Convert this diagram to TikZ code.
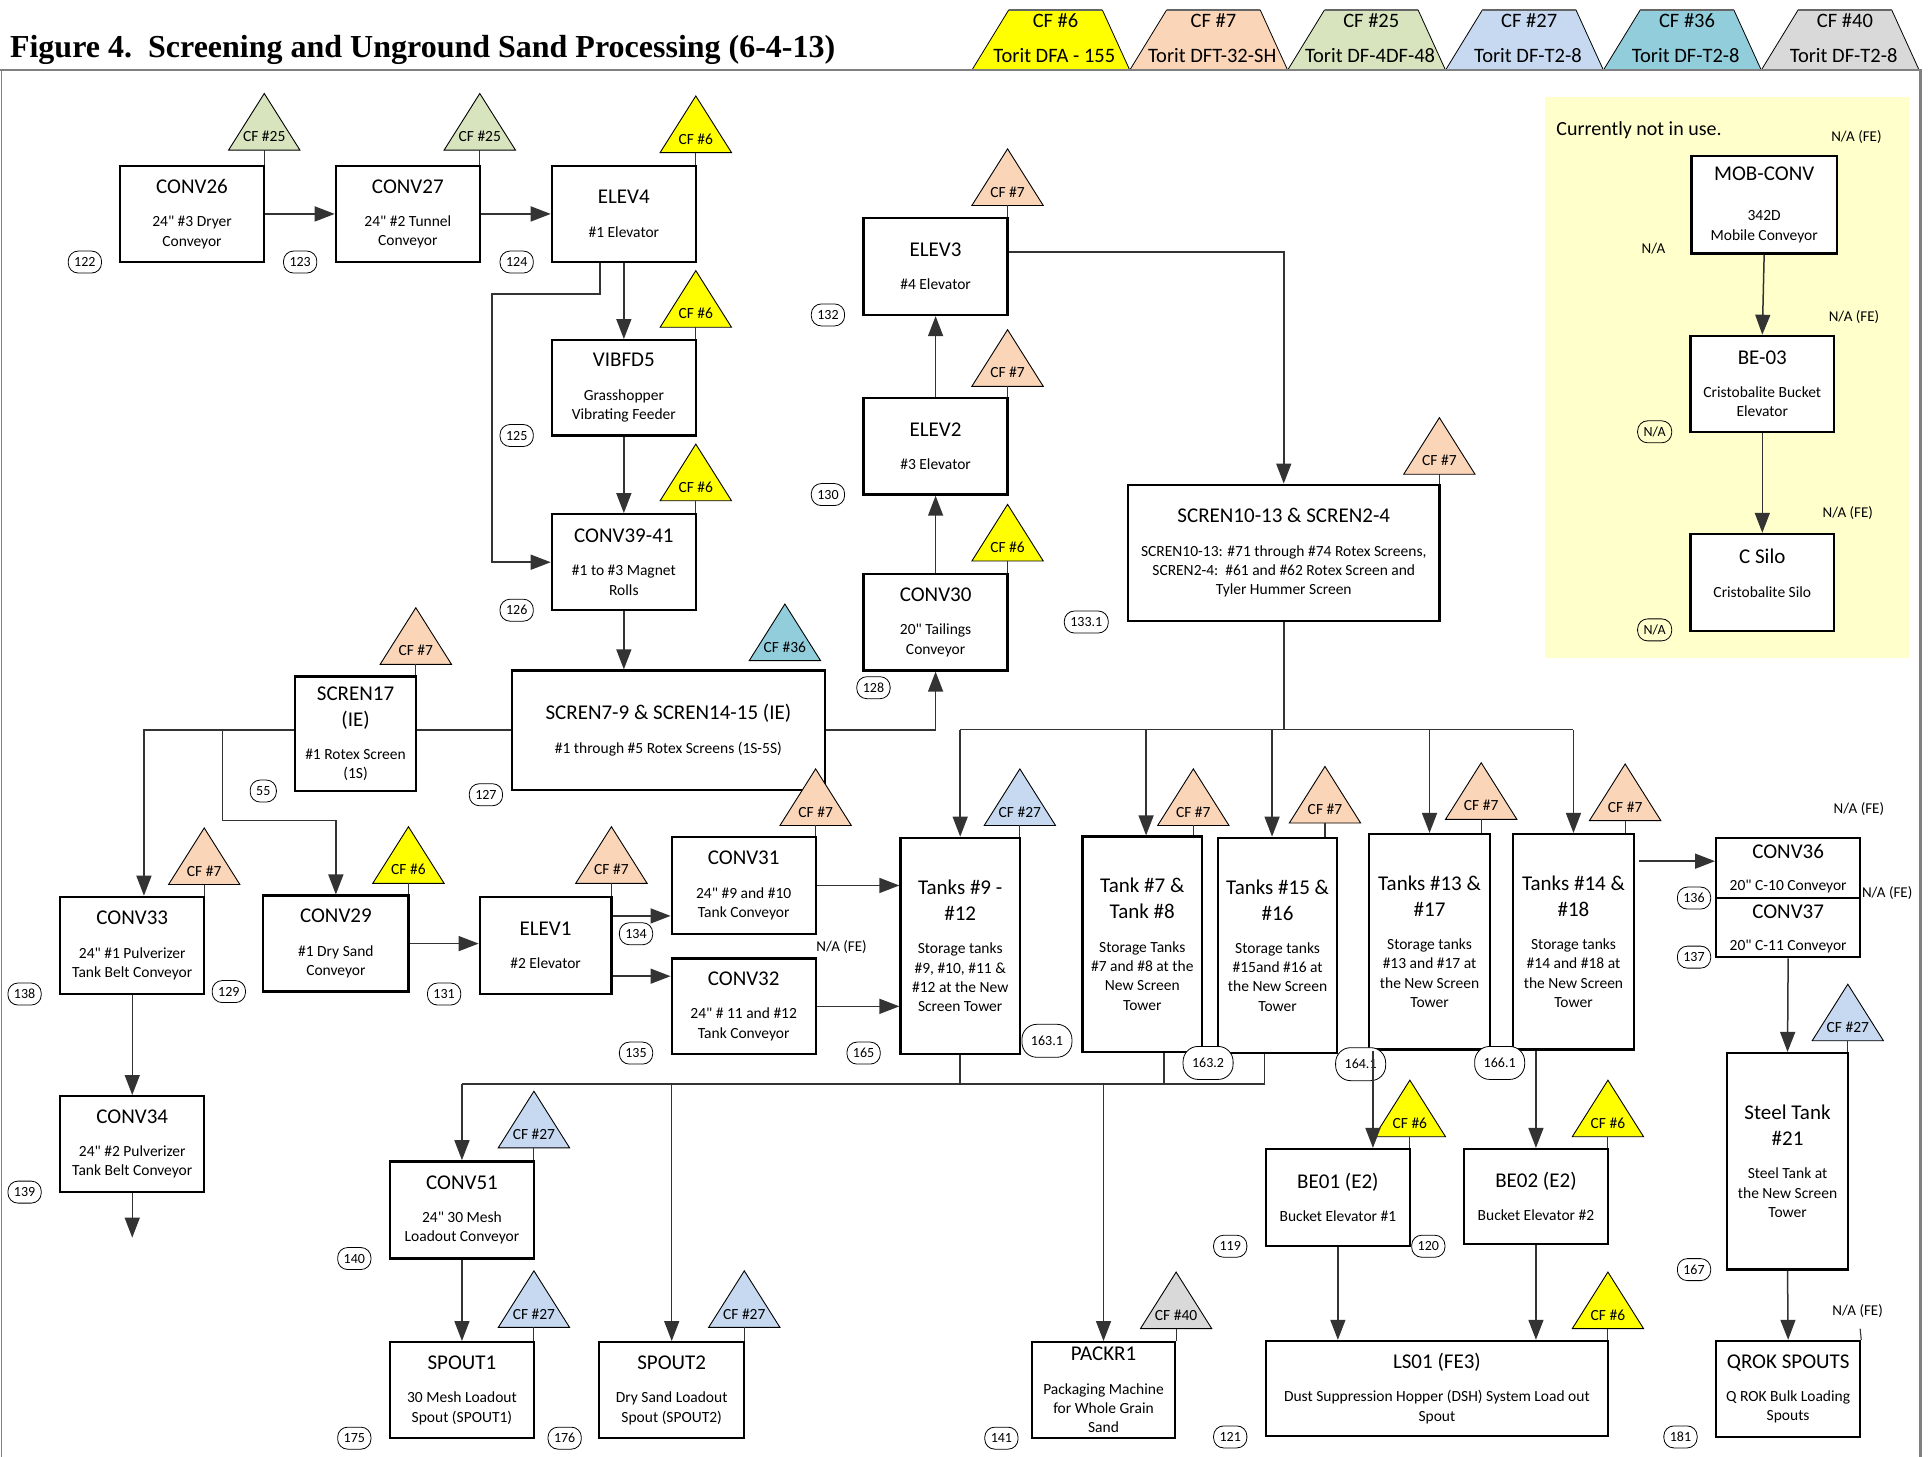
\documentclass[tikz,border=0pt]{standalone}
\usepackage{fontspec}
\setmainfont{Carlito}[Ligatures=TeXOff]
\newfontfamily\serifbold{Liberation Serif}
\usetikzlibrary{arrows.meta,fit,calc}

\definecolor{cfyellow}{HTML}{FFFF00}
\definecolor{cfpeach}{HTML}{FAD5B8}
\definecolor{cfgreen}{HTML}{D7E4BD}
\definecolor{cfblue}{HTML}{C6D9F1}
\definecolor{cfteal}{HTML}{92CDDC}
\definecolor{cfgray}{HTML}{D9D9D9}
\definecolor{panel}{HTML}{FFFFCC}
\definecolor{framegray}{HTML}{808080}

\newcommand\tf{\fontsize{21}{26}\selectfont}
\newcommand\df{\fontsize{15.5}{19.3}\selectfont}

\tikzset{
  x=1.2302pt, y=-1.2302pt,
  box/.style={draw=black, fill=white, line width=2.3pt, inner sep=0pt},
  txt/.style={inner sep=0pt},
  ln/.style={draw=black!80, line width=1.5pt},
  arr/.style={ln, -{Triangle[length=20pt,width=15pt]}},
  tri/.style={draw=black, line width=0.9pt},
  tie/.style={draw=black!80, line width=1.1pt},
  trilbl/.style={font=\fontsize{15.5}{17}\selectfont, inner sep=0pt},
  hdr/.style={font=\fontsize{20.5}{24}\selectfont, inner sep=0pt},
  bub/.style={draw=black, fill=white, line width=0.8pt, rounded corners=10pt,
    inner xsep=6pt, inner ysep=0pt, minimum height=22pt, font=\fontsize{14}{16}\selectfont},
  bigbub/.style={bub, minimum height=33pt, minimum width=50pt, rounded corners=15pt},
  na/.style={font=\fontsize{15}{17}\selectfont, inner sep=0pt},
}

% equipment box: [gap] name, x1, y1, x2, y2, title, description
\newcommand\unit[8][14pt]{%
  \node[box, fit={(#3,#4) (#5,#6)}] (#2) {};
  \node[txt] (#2-x) at (#2.center)
    {\parbox{360pt}{\centering\tf #7\par\vspace{#1}\df #8\par}};
}
% same, text centred at a given height
\newcommand\unitp[8]{%
  \node[box, fit={(#2,#3) (#4,#5)}] (#1) {};
  \node[txt] (#1-x) at (#1.center |- 0,#6)
    {\parbox{360pt}{\centering\tf #7\par\vspace{14pt}\df #8\par}};
}
% control-filter triangle: name, centre x, base y, colour, label
\newcommand\cf[5]{%
  \draw[tri, fill=#4] (#2-29,#3) -- (#2,#3-46) -- (#2+29,#3) -- cycle;
  \node[trilbl] (#1) at (#2,#3-11) {#5};
  \coordinate (#1-b) at (#2,#3);
}

\begin{document}
\begin{tikzpicture}
\useasboundingbox (0,0) rectangle (1568,1184.3);

% not-in-use panel
\fill[panel] (1256,79) rectangle (1552,535);

% control filter legend
\foreach \i/\c/\a/\b in {0/cfyellow/{CF \#6}/{Torit DFA - 155},
    1/cfpeach/{CF \#7}/{Torit DFT-32-SH},
    2/cfgreen/{CF \#25}/{Torit DF-4DF-48},
    3/cfblue/{CF \#27}/{Torit DF-T2-8},
    4/cfteal/{CF \#36}/{Torit DF-T2-8},
    5/cfgray/{CF \#40}/{Torit DF-T2-8}}{
  \pgfmathsetmacro\bx{790+128.33*\i}
  \fill[\c] (\bx,57) -- (\bx+30,8) -- (\bx+106,8) -- (\bx+128.33,57) -- cycle;
  \draw[line width=0.8pt] (\bx,57) -- (\bx+30,8) (\bx+106,8) -- (\bx+128.33,57);
  \draw[line width=2.6pt, draw=black!60] (\bx+30,8) -- (\bx+106,8);
  \node[hdr] (hc\i) at (\bx+68,17) {\a};
  \node[hdr] (hd\i) at (\bx+67,45) {\b};
}

% frame
\draw[framegray, line width=2.6pt] (0,57) -- (1561,57) -- (1561,1184.3);
\draw[framegray, line width=1.2pt] (1,57) -- (1,1184.3);

% title
\node[anchor=base west, inner sep=0pt, font=\serifbold\bfseries\fontsize{32}{36}\selectfont]
  (title) at (8,46.5) {Figure 4.\ \ Screening and Unground Sand Processing (6-4-13)};

% equipment
\unit{conv26}{97.4}{134.8}{214.8}{213}{CONV26}{24" \#3 Dryer\\Conveyor}
\unit{conv27}{273}{134.8}{390}{213}{CONV27}{24" \#2 Tunnel\\Conveyor}
\unit{elev4}{448.6}{134.8}{565.6}{213}{ELEV4}{\#1 Elevator}
\unit{vibfd5}{448.6}{276.5}{565.6}{354}{VIBFD5}{Grasshopper\\Vibrating Feeder}
\unit{conv39}{448.6}{418}{565.6}{496}{CONV39-41}{\#1 to \#3 Magnet\\Rolls}
\unit{scren7}{416}{545}{670.6}{642}{SCREN7-9 \& SCREN14-15 (IE)}{\#1 through \#5 Rotex Screens (1S-5S)}
\unit{scren17}{240}{550}{338}{643}{SCREN17\\(IE)}{\#1 Rotex Screen\\(1S)}
\unit{conv33}{49}{729}{166}{808}{CONV33}{24" \#1 Pulverizer\\Tank Belt Conveyor}
\unit{conv34}{49}{891}{166}{969}{CONV34}{24" \#2 Pulverizer\\Tank Belt Conveyor}
\unit{conv29}{214}{728}{332}{806}{CONV29}{\#1 Dry Sand\\Conveyor}
\unit{elev1}{390}{729}{497}{808}{ELEV1}{\#2 Elevator}
\unit{conv31}{546}{680.5}{663}{759}{CONV31}{24" \#9 and \#10\\Tank Conveyor}
\unit{conv32}{546}{779}{663}{857}{CONV32}{24" \# 11 and \#12\\Tank Conveyor}
\unit{conv30}{702}{466.6}{819}{545}{CONV30}{20" Tailings\\Conveyor}
\unit{elev2}{702}{323.6}{819}{402}{ELEV2}{\#3 Elevator}
\unit{elev3}{702}{177}{819}{256}{ELEV3}{\#4 Elevator}
\unit{scren10}{917}{394}{1170}{505}{SCREN10-13 \& SCREN2-4}{SCREN10-13: \#71 through \#74 Rotex Screens,\\SCREN2-4:\ \ \#61 and \#62 Rotex Screen and\\Tyler Hummer Screen}
\unit{t912}{732}{681}{829}{857}{Tanks \#9 -\\\#12}{Storage tanks\\\#9, \#10, \#11 \&\\\#12 at the New\\Screen Tower}
\unit{t78}{880}{680}{977}{855}{Tank \#7 \&\\Tank \#8}{Storage Tanks\\\#7 and \#8 at the\\New Screen\\Tower}
\unit{t1516}{990}{681}{1087}{856}{Tanks \#15 \&\\\#16}{Storage tanks\\\#15and \#16 at\\the New Screen\\Tower}
\unit{t1317}{1113}{678}{1211}{853}{Tanks \#13 \&\\\#17}{Storage tanks\\\#13 and \#17 at\\the New Screen\\Tower}
\unit{t1418}{1230}{678}{1328}{853}{Tanks \#14 \&\\\#18}{Storage tanks\\\#14 and \#18 at\\the New Screen\\Tower}
\unit{steel}{1404}{856}{1502}{1032}{Steel Tank\\\#21}{Steel Tank at\\the New Screen\\Tower}
\unit{qrok}{1395}{1090}{1512}{1168}{QROK SPOUTS}{Q ROK Bulk Loading\\Spouts}
\unit{be01}{1029}{934}{1146}{1013}{BE01 (E2)}{Bucket Elevator \#1}
\unit{be02}{1190}{934}{1307}{1011}{BE02 (E2)}{Bucket Elevator \#2}
\unit{ls01}{1029}{1090}{1307}{1167}{LS01 (FE3)}{Dust Suppression Hopper (DSH) System Load out\\Spout}
\unit{packr1}{839}{1091}{955}{1169}{PACKR1}{Packaging Machine\\for Whole Grain\\Sand}
\unit{conv51}{317}{944}{434}{1023}{CONV51}{24" 30 Mesh\\Loadout Conveyor}
\unit{spout1}{317}{1091}{434}{1169}{SPOUT1}{30 Mesh Loadout\\Spout (SPOUT1)}
\unit{spout2}{487}{1091}{605}{1169}{SPOUT2}{Dry Sand Loadout\\Spout (SPOUT2)}
\unit[21pt]{mob}{1375}{127}{1493}{206}{MOB-CONV}{342D\\Mobile Conveyor}
\unit{be03}{1374}{273}{1491}{351}{BE-03}{Cristobalite Bucket\\Elevator}
\unitp{csilo}{1374}{434}{1491}{513}{466}{C Silo}{Cristobalite Silo}

% split box for the two C-conveyors
\node[box, fit={(1395,681) (1512,778)}] (c3637) {};
\draw[line width=1.5pt] (c3637.west |- 0,730) -- (c3637.east |- 0,730);
\node[txt, font=\tf] (c36t) at (1453.5,692) {CONV36};
\node[txt, font=\df] (c36d) at (1453.5,721) {20" C-10 Conveyor};
\node[txt, font=\tf] (c37t) at (1453.5,741) {CONV37};
\node[txt, font=\df] (c37d) at (1453.5,769) {20" C-11 Conveyor};

% control filter triangles
\cf{f1}{214.8}{122}{cfgreen}{CF \#25}
\cf{f2}{390}{122}{cfgreen}{CF \#25}
\cf{f3}{565.6}{124}{cfyellow}{CF \#6}
\cf{f4}{565.6}{266}{cfyellow}{CF \#6}
\cf{f5}{565.6}{407}{cfyellow}{CF \#6}
\cf{f6}{819}{167}{cfpeach}{CF \#7}
\cf{f7}{819}{314}{cfpeach}{CF \#7}
\cf{f8}{819}{456}{cfyellow}{CF \#6}
\cf{f9}{1170}{385.5}{cfpeach}{CF \#7}
\cf{f10}{638}{537}{cfteal}{CF \#36}
\cf{f11}{338}{540}{cfpeach}{CF \#7}
\cf{f12}{166}{719}{cfpeach}{CF \#7}
\cf{f13}{332}{718}{cfyellow}{CF \#6}
\cf{f14}{497}{718}{cfpeach}{CF \#7}
\cf{f15}{663}{671}{cfpeach}{CF \#7}
\cf{f16}{829}{671}{cfblue}{CF \#27}
\cf{f17}{970}{671}{cfpeach}{CF \#7}
\cf{f18}{1077}{669}{cfpeach}{CF \#7}
\cf{f19}{1204}{666}{cfpeach}{CF \#7}
\cf{f20}{1321}{667}{cfpeach}{CF \#7}
\cf{f21}{434}{933}{cfblue}{CF \#27}
\cf{f22}{434}{1079}{cfblue}{CF \#27}
\cf{f23}{605}{1079}{cfblue}{CF \#27}
\cf{f24}{956}{1080}{cfgray}{CF \#40}
\cf{f25}{1146}{924}{cfyellow}{CF \#6}
\cf{f26}{1307}{924}{cfyellow}{CF \#6}
\cf{f27}{1307}{1080}{cfyellow}{CF \#6}
\cf{f28}{1502}{846}{cfblue}{CF \#27}

\foreach \f/\b in {f1/conv26,f2/conv27,f3/elev4,f4/vibfd5,f5/conv39,f6/elev3,f7/elev2,
    f8/conv30,f9/scren10,f11/scren17,f12/conv33,f13/conv29,f14/elev1,f15/conv31,f16/t912,
    f17/t78,f18/t1516,f19/t1317,f20/t1418,f21/conv51,f22/spout1,f23/spout2,f24/packr1,
    f25/be01,f26/be02,f27/ls01,f28/steel}
  \draw[tie] (\f-b) -- (\b.north -| \f-b);
\coordinate (qstub) at (1512,1080);
\draw[tie] (qstub) -- (qrok.north east);

% emission point numbers
\foreach \n/\x/\y/\t in {b122/69/213/122, b123/244/213/123, b124/420/213/124,
    b125/420/354/125, b126/420/496/126, b132/673/256/132, b130/673/402/130,
    b128/710/559/128, b1331/883/505.6/133.1, b127/395/646/127, b55/214/643/55,
    b138/20/808/138, b129/186/806/129, b131/361/808/131, b134/517/759/134,
    b135/517/856/135, b165/702/856/165, b136/1377/730/136, b137/1377/778/137,
    b139/20/969/139, b140/288/1023/140, b175/288/1169/175, b176/459/1169/176,
    b141/814/1169/141, b121/1000/1168/121, b119/1000/1013/119, b120/1161/1013/120,
    b167/1377/1032/167, b181/1366/1168/181}
  \node[bub] (\n) at (\x,\y) {\t};
\foreach \n/\x/\y/\t in {b1631/851/846/163.1, b1632/982/864/163.2,
    b1641/1106/865/164.1, b1661/1219/864/166.1}
  \node[bigbub] (\n) at (\x,\y) {\t};
\node[bub, fill=panel] (bna1) at (1345,351) {N/A};
\node[bub, fill=panel] (bna2) at (1345,512) {N/A};

% free labels
\node[anchor=west, inner sep=0pt, font=\fontsize{20}{24}\selectfont] (notuse) at (1265,106) {Currently not in use.};
\node[na] (na1) at (1509,111) {N/A (FE)};
\node[na] (na2) at (1344,202) {N/A};
\node[na] (na3) at (1507,258) {N/A (FE)};
\node[na] (na4) at (1502,417) {N/A (FE)};
\node[na] (na5) at (684,770) {N/A (FE)};
\node[na] (na6) at (1511,658) {N/A (FE)};
\node[na] (na7) at (1534,726) {N/A (FE)};
\node[na] (na8) at (1510,1066) {N/A (FE)};

% material flow
\draw[arr] (conv26.east) -- (conv27.west);
\draw[arr] (conv27.east) -- (elev4.west);
\draw[arr] (elev4.south) -- (vibfd5.north);
\draw[arr] ($(elev4.south)+(-19.3,0)$) |- (400,239) |- (conv39.west);
\draw[arr] (vibfd5.south) -- (conv39.north);
\draw[arr] (conv39.south) -- (conv39.south |- scren7.north);
\draw[arr] (scren7.east) -| (conv30.south);
\draw[ln] (scren7.west) -- (scren7.west -| scren17.east);
\draw[arr] (scren7.west -| scren17.west) -| ($(conv33.north)+(9.5,0)$);
\coordinate (j1) at (181,593);
\draw[arr] (j1) -- (181,667) -| (conv29.north);
\draw[arr] (conv33.south) -- (conv34.north);
\coordinate (c34out) at (107.5,1006);
\draw[arr] (conv34.south) -- (c34out);
\draw[arr] (conv29.east) -- (conv29.east -| elev1.west);
\draw[arr] (elev1.east |- 0,744.5) -- (conv31.west |- 0,744.5);
\draw[arr] (elev1.east |- 0,793.5) -- (conv32.west |- 0,793.5);
\draw[arr] (conv31.east) -- (conv31.east -| t912.west);
\draw[arr] (conv32.east) -- (conv32.east -| t912.west);
\draw[arr] (conv30.north) -- (elev2.south);
\draw[arr] (elev2.north) -- (elev3.south);
\draw[arr] (elev3.east |- 0,205) -| (scren10.north);

% screen tower distribution
\draw[ln] (scren10.south) -- (scren10.south |- 0,593);
\draw[ln] (t912.north |- 0,593) -- (t1418.north |- 0,593);
\draw[arr] (t912.north |- 0,593) -- (t912.north);
\draw[arr] (931.6,593) -- (t78.north -| 931.6,0);
\draw[arr] (1034,593) -- (t1516.north -| 1034,0);
\draw[arr] (t1317.north |- 0,593) -- (t1317.north);
\draw[arr] (t1418.north |- 0,593) -- (t1418.north);

% tank discharge collector
\draw[ln] (t912.south) -- (t912.south |- 0,881);
\draw[ln] (t78.south -| 946,0) -- (946,881);
\draw[ln] (t1516.south -| 1028,0) -- (1028,881);
\draw[ln] (conv51.north |- 0,881) -- (1028,881);
\draw[arr] (conv51.north |- 0,881) -- (conv51.north);
\draw[arr] (spout2.north |- 0,881) -- (spout2.north);
\draw[arr] (packr1.north |- 0,881) -- (packr1.north);
\draw[arr] (conv51.south) -- (spout1.north);

\draw[arr] (t1317.south -| 1116,0) -- (be01.north -| 1116,0);
\draw[arr] (t1418.south -| be02.north) -- (be02.north);
\draw[arr] (be01.south) -- (be01.south |- ls01.north);
\draw[arr] (be02.south) -- (be02.south |- ls01.north);

\draw[arr] (t1418.east |- 0,700) ++(3,0) -- (c3637.west |- 0,700);
\draw[arr] (c3637.south) -- (steel.north);
\draw[arr] (steel.south) -- (qrok.north);

\draw[arr] (mob.south) -- (be03.north);
\draw[arr] (be03.south) -- (csilo.north);
\end{tikzpicture}
\end{document}
